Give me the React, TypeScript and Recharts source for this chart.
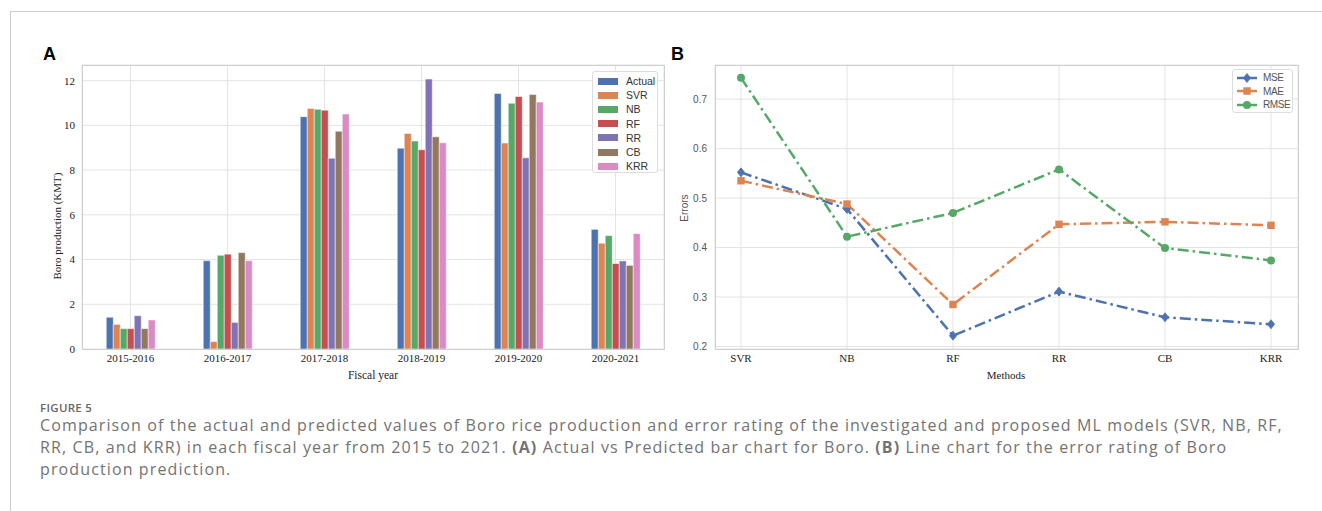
import React from "react";
import {
  Bar,
  BarChart,
  CartesianGrid,
  Line,
  LineChart,
  XAxis,
  YAxis
} from "recharts";

// Panel A: Boro production by fiscal year (KMT)
const fiscalYears = ["2015-2016", "2016-2017", "2017-2018", "2018-2019", "2019-2020", "2020-2021"];
const actual = [1.42, 3.95, 10.39, 8.98, 11.43, 5.35];
const svr = [1.1, 0.33, 10.76, 9.64, 9.21, 4.73];
const nb = [0.91, 4.19, 10.72, 9.3, 10.99, 5.07];
const rf = [0.91, 4.24, 10.68, 8.91, 11.29, 3.82];
const rr = [1.49, 1.19, 8.53, 12.07, 8.55, 3.94];
const cb = [0.91, 4.31, 9.74, 9.49, 11.38, 3.74];
const krr = [1.3, 3.95, 10.51, 9.22, 11.04, 5.16];
const productionTicks = [0, 2, 4, 6, 8, 10, 12];

// Panel B: error rating per method
const methods = ["SVR", "NB", "RF", "RR", "CB", "KRR"];
const mse = [0.552, 0.478, 0.222, 0.311, 0.259, 0.245];
const mae = [0.535, 0.488, 0.285, 0.447, 0.452, 0.445];
const rmse = [0.743, 0.422, 0.47, 0.558, 0.399, 0.374];
const errorTicks = [0.2, 0.3, 0.4, 0.5, 0.6, 0.7];

const barSeries = [
  { key: "Actual", values: actual, color: "#4C72B0" },
  { key: "SVR", values: svr, color: "#DD8452" },
  { key: "NB", values: nb, color: "#55A868" },
  { key: "RF", values: rf, color: "#C44E52" },
  { key: "RR", values: rr, color: "#8172B3" },
  { key: "CB", values: cb, color: "#937860" },
  { key: "KRR", values: krr, color: "#DA8BC3" }
];

const lineSeries = [
  { key: "MSE", values: mse, color: "#4C72B0", marker: "diamond" },
  { key: "MAE", values: mae, color: "#DD8452", marker: "square" },
  { key: "RMSE", values: rmse, color: "#55A868", marker: "circle" }
];

const barData = fiscalYears.map((year, i) => {
  const row: Record<string, string | number> = { year };
  barSeries.forEach((s) => (row[s.key] = s.values[i]));
  return row;
});

const lineData = methods.map((method, i) => {
  const row: Record<string, string | number> = { method };
  lineSeries.forEach((s) => (row[s.key] = s.values[i]));
  return row;
});

const serif = "'Liberation Serif', 'Times New Roman', serif";
const sans = "'Liberation Sans', Arial, sans-serif";
const gridColor = "#e3e3e3";
const spineColor = "#cfcfcf";

function Marker({ cx, cy, kind, color }: { cx: number; cy: number; kind: string; color: string }) {
  if (kind === "diamond") {
    const r = 4.5;
    return (
      <path
        d={`M${cx},${cy - r} L${cx + r * 0.8},${cy} L${cx},${cy + r} L${cx - r * 0.8},${cy} Z`}
        fill={color}
        stroke={color}
        strokeWidth={0.8}
      />
    );
  }
  if (kind === "square") {
    return <rect x={cx - 3.7} y={cy - 3.7} width={7.4} height={7.4} fill={color} />;
  }
  return <circle cx={cx} cy={cy} r={4} fill={color} />;
}

function PlotFrame({ left, top, width, height }: { left: number; top: number; width: number; height: number }) {
  return (
    <div
      style={{
        position: "absolute",
        left,
        top,
        width,
        height,
        boxSizing: "border-box",
        border: `1px solid ${spineColor}`,
        pointerEvents: "none"
      }}
    />
  );
}

export default function App() {
  return (
    <div
      style={{
        position: "absolute",
        left: 0,
        top: 0,
        width: 1322,
        height: 511,
        overflow: "hidden",
        background: "#fff"
      }}
    >
      {/* page frame */}
      <div style={{ position: "absolute", left: 10, top: 11, width: 1312, height: 1, background: "#cccccc" }} />
      <div style={{ position: "absolute", left: 10, top: 11, width: 1, height: 500, background: "#cccccc" }} />

      {/* Panel A */}
      <div style={{ position: "absolute", left: 0, top: 0 }}>
        <BarChart
          width={680}
          height={400}
          data={barData}
          margin={{ top: 65, right: 16, bottom: 11, left: 40 }}
          barCategoryGap="25%"
          barGap={0}
        >
          <CartesianGrid stroke={gridColor} strokeWidth={1} />
          <XAxis
            dataKey="year"
            axisLine={false}
            tickLine={false}
            tickSize={0}
            tickMargin={5}
            height={40}
            interval={0}
            tick={{ fontFamily: serif, fontSize: 11, fill: "#222" }}
          />
          <YAxis
            domain={[0, 12.7]}
            ticks={productionTicks}
            axisLine={false}
            tickLine={false}
            tickSize={0}
            tickMargin={7}
            width={42}
            tick={{ fontFamily: serif, fontSize: 11, fill: "#222" }}
          />
          {barSeries.map((s) => (
            <Bar
              key={s.key}
              dataKey={s.key}
              fill={s.color}
              stroke="#ffffff"
              strokeWidth={0.5}
              isAnimationActive={false}
            />
          ))}
        </BarChart>
      </div>
      <PlotFrame left={82} top={65} width={583} height={285} />

      {/* Panel A legend */}
      <div
        style={{
          position: "absolute",
          left: 592,
          top: 71,
          width: 66,
          height: 102,
          boxSizing: "border-box",
          border: "1px solid #dddddd",
          borderRadius: 3,
          background: "rgba(255,255,255,0.9)",
          paddingTop: 2
        }}
      >
        {barSeries.map((s) => (
          <div key={s.key} style={{ display: "flex", alignItems: "center", height: 14.2 }}>
            <span style={{ display: "inline-block", marginLeft: 5, width: 20, height: 7, background: s.color }} />
            <span style={{ marginLeft: 8, fontFamily: sans, fontSize: 10.5, color: "#333", lineHeight: "14px" }}>
              {s.key}
            </span>
          </div>
        ))}
      </div>

      {/* Panel B */}
      <div style={{ position: "absolute", left: 660, top: 0 }}>
        <LineChart
          width={660}
          height={400}
          data={lineData}
          margin={{ top: 65, right: 22, bottom: 11, left: 20 }}
        >
          <CartesianGrid stroke={gridColor} strokeWidth={1} />
          <XAxis
            dataKey="method"
            axisLine={false}
            tickLine={false}
            tickSize={0}
            tickMargin={5}
            height={40}
            interval={0}
            padding={{ left: 26, right: 27 }}
            tick={{ fontFamily: serif, fontSize: 11, fill: "#222" }}
          />
          <YAxis
            domain={[0.195, 0.769]}
            ticks={errorTicks}
            allowDataOverflow
            axisLine={false}
            tickLine={false}
            tickSize={0}
            tickMargin={8}
            width={35}
            tickFormatter={(v) => String(v)}
            tick={{ fontFamily: sans, fontSize: 10, fill: "#555" }}
          />
          {lineSeries.map((s) => (
            <Line
              key={s.key}
              type="linear"
              dataKey={s.key}
              stroke={s.color}
              strokeWidth={2.5}
              strokeDasharray="11 4 2.5 4"
              dot={(p: any) => (
                <Marker key={`${s.key}-${p.index}`} cx={p.cx} cy={p.cy} kind={s.marker} color={s.color} />
              )}
              activeDot={false}
              isAnimationActive={false}
            />
          ))}
        </LineChart>
      </div>
      <PlotFrame left={715} top={65} width={584} height={285} />

      {/* Panel B legend */}
      <div
        style={{
          position: "absolute",
          left: 1232,
          top: 69,
          width: 61,
          height: 44,
          boxSizing: "border-box",
          border: "1px solid #dddddd",
          borderRadius: 3,
          background: "rgba(255,255,255,0.9)",
          paddingTop: 1
        }}
      >
        {lineSeries.map((s) => (
          <div key={s.key} style={{ display: "flex", alignItems: "center", height: 13.5 }}>
            <svg width={22} height={10} style={{ marginLeft: 3 }}>
              <line x1={1} y1={5} x2={21} y2={5} stroke={s.color} strokeWidth={2.5} />
              <Marker cx={11} cy={5} kind={s.marker} color={s.color} />
            </svg>
            <span style={{ marginLeft: 5, fontFamily: sans, fontSize: 10, color: "#555", letterSpacing: -0.4 }}>
              {s.key}
            </span>
          </div>
        ))}
      </div>

      {/* axis titles and panel letters */}
      <svg width={1322} height={400} style={{ position: "absolute", left: 0, top: 0, pointerEvents: "none" }}>
        <text x={43} y={60} fontFamily={sans} fontWeight="bold" fontSize={18} fill="#000">
          A
        </text>
        <text x={671} y={60} fontFamily={sans} fontWeight="bold" fontSize={18} fill="#000">
          B
        </text>
        <text
          x={57}
          y={226}
          fontFamily={serif}
          fontSize={11}
          fill="#222"
          textAnchor="middle"
          dominantBaseline="central"
          transform="rotate(-90 57 226)"
        >
          Boro production (KMT)
        </text>
        <text x={373} y={379} fontFamily={serif} fontSize={11.5} fill="#222" textAnchor="middle">
          Fiscal year
        </text>
        <text
          x={684}
          y={208}
          fontFamily={sans}
          fontSize={10}
          fill="#555"
          textAnchor="middle"
          dominantBaseline="central"
          transform="rotate(-90 684 208)"
        >
          Errors
        </text>
        <text x={1006} y={379} fontFamily={serif} fontSize={11} fill="#222" textAnchor="middle">
          Methods
        </text>
      </svg>

      {/* caption */}
      <div
        style={{
          position: "absolute",
          left: 40,
          top: 401,
          fontFamily: "'Open Sans', sans-serif",
          fontWeight: 600,
          fontSize: 11.5,
          color: "#666",
          lineHeight: "14px",
          letterSpacing: 0.3
        }}
      >
        FIGURE 5
      </div>
      <div
        style={{
          position: "absolute",
          left: 40,
          top: 414,
          fontFamily: "'Open Sans', sans-serif",
          fontSize: 16,
          color: "#737373",
          lineHeight: "22px",
          letterSpacing: 1.12,
          whiteSpace: "nowrap"
        }}
      >
        <div>
          Comparison of the actual and predicted values of Boro rice production and error rating of the investigated and
          proposed ML models (SVR, NB, RF,
        </div>
        <div>
          RR, CB, and KRR) in each fiscal year from 2015 to 2021. <b>(A)</b> Actual vs Predicted bar chart for Boro.{" "}
          <b>(B)</b> Line chart for the error rating of Boro
        </div>
        <div>production prediction.</div>
      </div>
    </div>
  );
}
